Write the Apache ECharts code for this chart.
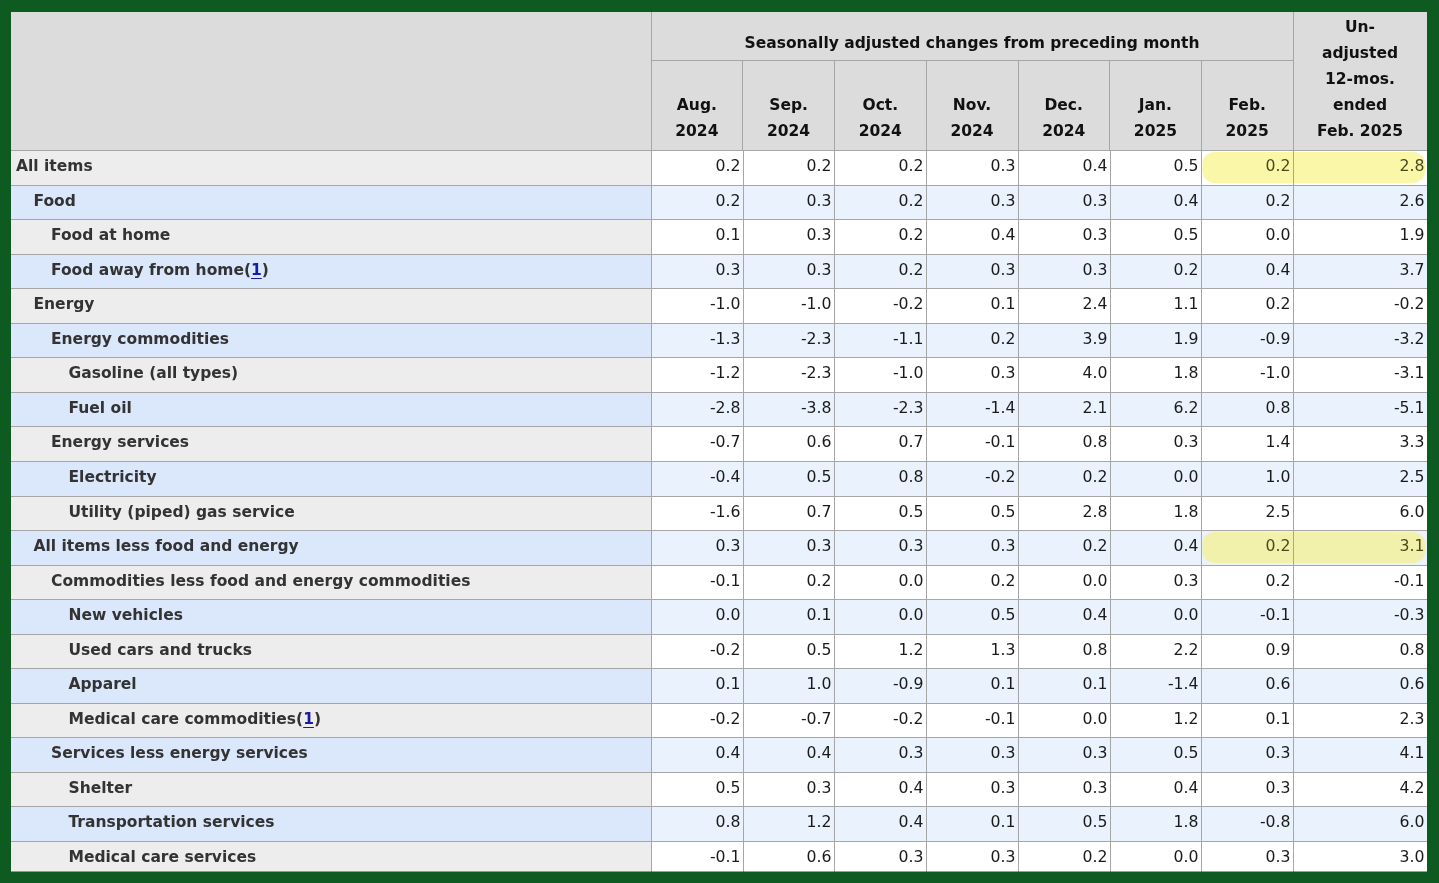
<!DOCTYPE html>
<html><head><meta charset="utf-8">
<script src="https://cdn.jsdelivr.net/npm/echarts@6/dist/echarts.min.js"></script>
<style>html,body{margin:0;padding:0;background:#0e5b22;overflow:hidden}#c{width:1439px;height:883px;pointer-events:none}</style>
</head><body><div id="c"></div>
<script>
// ---------- data ----------
const items = ['All items','Food','Food at home','Food away from home','Energy','Energy commodities',
  'Gasoline (all types)','Fuel oil','Energy services','Electricity','Utility (piped) gas service',
  'All items less food and energy','Commodities less food and energy commodities','New vehicles',
  'Used cars and trucks','Apparel','Medical care commodities','Services less energy services',
  'Shelter','Transportation services','Medical care services'];
const levels = [0,1,2,2,1,2,3,3,2,3,3,1,2,3,3,3,3,2,3,3,3];
const footnoted = ['Food away from home','Medical care commodities'];
const highlighted = ['All items','All items less food and energy'];
const superHeader = 'Seasonally adjusted changes from preceding month';
const months = ['Aug.\n2024','Sep.\n2024','Oct.\n2024','Nov.\n2024','Dec.\n2024','Jan.\n2025','Feb.\n2025'];
const lastHeader = ['Un-\nadjusted\n12-mos.\nended\nFeb. 2025'];
const aug2024 = [0.2,0.2,0.1,0.3,-1.0,-1.3,-1.2,-2.8,-0.7,-0.4,-1.6,0.3,-0.1,0.0,-0.2,0.1,-0.2,0.4,0.5,0.8,-0.1];
const sep2024 = [0.2,0.3,0.3,0.3,-1.0,-2.3,-2.3,-3.8,0.6,0.5,0.7,0.3,0.2,0.1,0.5,1.0,-0.7,0.4,0.3,1.2,0.6];
const oct2024 = [0.2,0.2,0.2,0.2,-0.2,-1.1,-1.0,-2.3,0.7,0.8,0.5,0.3,0.0,0.0,1.2,-0.9,-0.2,0.3,0.4,0.4,0.3];
const nov2024 = [0.3,0.3,0.4,0.3,0.1,0.2,0.3,-1.4,-0.1,-0.2,0.5,0.3,0.2,0.5,1.3,0.1,-0.1,0.3,0.3,0.1,0.3];
const dec2024 = [0.4,0.3,0.3,0.3,2.4,3.9,4.0,2.1,0.8,0.2,2.8,0.2,0.0,0.4,0.8,0.1,0.0,0.3,0.3,0.5,0.2];
const jan2025 = [0.5,0.4,0.5,0.2,1.1,1.9,1.8,6.2,0.3,0.0,1.8,0.4,0.3,0.0,2.2,-1.4,1.2,0.5,0.4,1.8,0.0];
const feb2025 = [0.2,0.2,0.0,0.4,0.2,-0.9,-1.0,0.8,1.4,1.0,2.5,0.2,0.2,-0.1,0.9,0.6,0.1,0.3,0.3,-0.8,0.3];
const unadjusted12mo = [2.8,2.6,1.9,3.7,-0.2,-3.2,-3.1,-5.1,3.3,2.5,6.0,3.1,-0.1,-0.3,0.8,0.6,2.3,4.1,4.2,6.0,3.0];
const monthCols = [aug2024,sep2024,oct2024,nov2024,dec2024,jan2025,feb2025];

// ---------- styles ----------
const FONT = '"DejaVu Sans", Verdana, sans-serif';
const BORDER = '#a6a6a6';
const GREEN = '#0e5b22';
const LBL_FONT = 'bold 15.5px ' + FONT;
const NUM_FONT = '15.7px ' + FONT;
const ctx = document.createElement('canvas').getContext('2d');
function tw(t, f){ ctx.font = f; return ctx.measureText(t).width; }

const rnd = v => Math.round(v + 0.001); // consistent tie-breaking so adjacent cells share edges
function cellBox(api, xi, yi){
  const c = api.coord([xi, yi]); const s = api.size([1,1]);
  const x0 = rnd(c[0]-s[0]/2), x1 = rnd(c[0]+s[0]/2);
  const y0 = rnd(c[1]-s[1]/2), y1 = rnd(c[1]+s[1]/2);
  return {x0,x1,y0,y1,cy:(y0+y1)/2 - 0.5};
}
function borders(b, left){
  const out = [{type:'rect', shape:{x:b.x0, y:b.y0, width:b.x1-b.x0, height:1}, style:{fill:BORDER}}];
  if (left) out.push({type:'rect', shape:{x:b.x0, y:b.y0, width:1, height:b.y1-b.y0}, style:{fill:BORDER}});
  return out;
}

function renderLabel(params, api){
  const ri = api.value(1);
  const b = cellBox(api, 0, ri);
  const name = items[ri];
  const fill = ri % 2 === 0 ? '#ededed' : '#dbe8fc';
  const tx = b.x0 + 6 + levels[ri]*17.5;
  const ch = [{type:'rect', shape:{x:b.x0, y:b.y0, width:b.x1-b.x0, height:b.y1-b.y0}, style:{fill}}];
  ch.push(...borders(b, false));
  ch.push({type:'text', style:{text:name, x:tx, y:b.cy, font:LBL_FONT, fill:'#333', align:'left', verticalAlign:'middle'}});
  if (footnoted.indexOf(name) >= 0){
    const w0 = tw(name, LBL_FONT), wp = tw('(', LBL_FONT), w1 = tw('1', LBL_FONT);
    ch.push({type:'text', style:{text:'(', x:tx+w0, y:b.cy, font:LBL_FONT, fill:'#333', verticalAlign:'middle'}});
    ch.push({type:'text', style:{text:'1', x:tx+w0+wp, y:b.cy, font:LBL_FONT, fill:'#1a1aa6', verticalAlign:'middle'}});
    ch.push({type:'rect', shape:{x:tx+w0+wp, y:Math.round(b.cy)+7, width:w1, height:1}, style:{fill:'#1a1aa6'}});
    ch.push({type:'text', style:{text:')', x:tx+w0+wp+w1, y:b.cy, font:LBL_FONT, fill:'#333', verticalAlign:'middle'}});
  }
  return {type:'group', children:ch};
}

function makeValueRenderer(hlSide){
  return function(params, api){
    const ci = api.value(0), ri = api.value(1), v = api.value(2);
    const b = cellBox(api, ci, ri);
    const fill = ri % 2 === 0 ? '#ffffff' : '#eaf2fd';
    const ch = [{type:'rect', shape:{x:b.x0, y:b.y0, width:b.x1-b.x0, height:b.y1-b.y0}, style:{fill}}];
    const isHl = highlighted.indexOf(items[ri]) >= 0 && (hlSide === 'right' || ci === months.length-1);
    if (isHl){
      const hc = ri % 2 === 0 ? '#fbf7a9' : '#f1f1ab';
      if (hlSide === 'left') ch.push({type:'rect', shape:{x:b.x0+1.5, y:b.y0+2, width:b.x1-b.x0-1.5, height:b.y1-b.y0-4, r:[12,0,0,12]}, style:{fill:hc}});
      else ch.push({type:'rect', shape:{x:b.x0, y:b.y0+2, width:b.x1-b.x0-2, height:b.y1-b.y0-4, r:[0,12,12,0]}, style:{fill:hc}});
    }
    ch.push(...borders(b, true));
    ch.push({type:'text', style:{text:v.toFixed(1), x:b.x1-2.5, y:b.cy, font:NUM_FONT, fill: isHl ? '#4a4a1c' : '#1a1a1a', align:'right', verticalAlign:'middle'}});
    return {type:'group', children:ch};
  };
}

const gridH = items.length * 34.55;
const headerAxis = (data, tickLen, showLabel) => ({
  type:'category', data, position:'top', z:0,
  axisLine:{show:true, onZero:false, lineStyle:{color:BORDER, width:1}},
  axisTick:{show:true, length:tickLen, lineStyle:{color:BORDER, width:1}},
  axisLabel:{show:showLabel, interval:0, margin:4.5, fontFamily:FONT, fontWeight:'bold', fontSize:15.5, lineHeight:26.2, color:'#111'},
  splitLine:{show:false}, splitArea:{show:false}
});
const rowAxis = gi => ({type:'category', gridIndex:gi, data:items, inverse:true, show:false, z:0,
  axisLine:{show:false, onZero:false}, axisTick:{show:false}, axisLabel:{show:false}, splitLine:{show:false}, splitArea:{show:false}});

const monthData = [];
monthCols.forEach((col, ci) => col.forEach((v, ri) => monthData.push([ci, ri, v])));
const lastData = unadjusted12mo.map((v, ri) => [0, ri, v]);
const labelData = items.map((n, ri) => [0, ri]);

const seriesCommon = {type:'custom', z:20, silent:true, encode:{x:0,y:1}};
const chart = echarts.init(document.getElementById('c'));
chart.setOption({
  animation:false,
  backgroundColor: GREEN,
  grid:[
    {left:10, top:150, width:641, height:gridH},
    {left:651, top:150, width:642, height:gridH},
    {left:1293, top:150, width:134, height:gridH}
  ],
  xAxis:[
    Object.assign(headerAxis([''], 138, false), {gridIndex:0}),
    Object.assign(headerAxis(months, 90, true), {gridIndex:1}),
    Object.assign(headerAxis(lastHeader, 138, true), {gridIndex:2})
  ],
  yAxis:[rowAxis(0), rowAxis(1), rowAxis(2)],
  series:[
    Object.assign({xAxisIndex:0, yAxisIndex:0, data:labelData, renderItem:renderLabel}, seriesCommon),
    Object.assign({xAxisIndex:1, yAxisIndex:1, data:monthData, renderItem:makeValueRenderer('left')}, seriesCommon),
    Object.assign({xAxisIndex:2, yAxisIndex:2, data:lastData, renderItem:makeValueRenderer('right')}, seriesCommon)
  ],
  graphic:[
    {type:'rect', z:-10, silent:true, shape:{x:10, y:12, width:1417, height:138}, style:{fill:'#dcdcdc'}},
    {type:'rect', z:30, silent:true, shape:{x:651, y:60, width:642, height:1}, style:{fill:BORDER}},
    {type:'text', z:30, silent:true, style:{text:superHeader, x:972, y:43.5, align:'center', verticalAlign:'middle', font:'bold 15.5px ' + FONT, fill:'#111'}},
    {type:'rect', z:100, silent:true, shape:{x:0, y:0, width:1439, height:12}, style:{fill:GREEN}},
    {type:'rect', z:100, silent:true, shape:{x:0, y:871.5, width:1439, height:12}, style:{fill:GREEN}},
    {type:'rect', z:100, silent:true, shape:{x:0, y:0, width:11, height:883}, style:{fill:GREEN}},
    {type:'rect', z:100, silent:true, shape:{x:1427, y:0, width:12, height:883}, style:{fill:GREEN}}
  ]
});
</script></body></html>
